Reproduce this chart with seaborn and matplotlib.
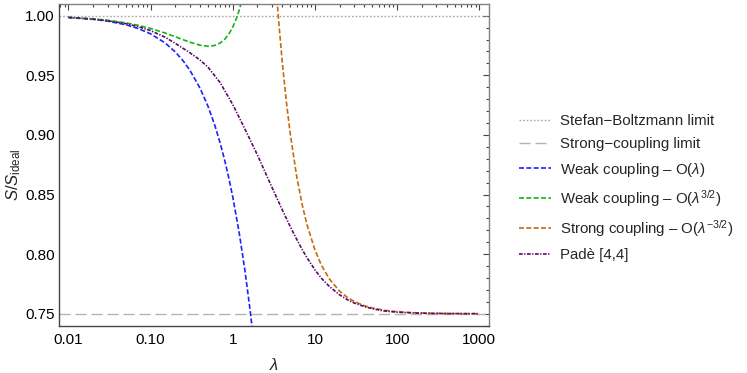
import numpy as np
import matplotlib
matplotlib.use("Agg")
import matplotlib.pyplot as plt
import seaborn as sns
from matplotlib.ticker import FixedLocator, LogLocator, NullFormatter, FixedFormatter, MultipleLocator
from matplotlib.lines import Line2D

# ---------------- data ----------------
sb_limit = 1.0
strong_limit = 0.75

weak1_lam = [0.01, 0.02, 0.03, 0.05, 0.07, 0.1, 0.15, 0.2, 0.25, 0.3, 0.4, 0.5,
             0.6, 0.7, 0.8, 0.9, 1.0, 1.2, 1.4, 1.6, 1.72]
weak1_val = [0.99848, 0.99696, 0.99544, 0.99240, 0.98936, 0.98480, 0.97720, 0.96960,
             0.96200, 0.95441, 0.93921, 0.92401, 0.90881, 0.89361, 0.87842, 0.86322,
             0.84802, 0.81762, 0.78723, 0.75683, 0.73859]

weak32_lam = [0.01, 0.02, 0.03, 0.05, 0.07, 0.1, 0.15, 0.2, 0.25, 0.3, 0.4, 0.5,
              0.6, 0.7, 0.8, 0.9, 1.0, 1.1, 1.2, 1.3]
weak32_val = [0.99862, 0.99736, 0.99618, 0.99399, 0.99200, 0.98930, 0.98547, 0.98234,
              0.97980, 0.97780, 0.97523, 0.97435, 0.97498, 0.97700, 0.98029, 0.98478,
              0.99039, 0.99707, 1.00477, 1.01345]

strong_lam = [3.45, 3.6, 4, 4.5, 5, 6, 7, 8, 10, 12, 15, 20, 25, 30, 40, 50, 70,
              100, 150, 200, 300, 500, 1000]
strong_val = [1.01379, 0.99748, 0.96130, 0.92708, 0.90119, 0.86502, 0.84127, 0.82471,
              0.80345, 0.79066, 0.77910, 0.76890, 0.76352, 0.76029, 0.75668, 0.75478,
              0.75289, 0.75169, 0.75092, 0.75060, 0.75033, 0.75015, 0.75005]

pade_lam = [0.01, 0.02, 0.03, 0.05, 0.07, 0.1, 0.15, 0.2, 0.3, 0.4, 0.5, 0.7, 1.0,
            1.5, 2.0, 3.0, 4.0, 5.0, 6.0, 7.0, 8.0, 10, 12, 15, 20, 25, 30, 40, 50,
            70, 100, 150, 200, 300, 500, 1000]
pade_val = [0.9985, 0.9971, 0.9958, 0.9933, 0.9909, 0.9875, 0.9820, 0.9768, 0.9690,
            0.9628, 0.9568, 0.9440, 0.9255, 0.9010, 0.8830, 0.8560, 0.8372, 0.8232,
            0.8124, 0.8038, 0.7970, 0.7868, 0.7797, 0.7728, 0.7658, 0.7616, 0.7590,
            0.7560, 0.7542, 0.7523, 0.7513, 0.7507, 0.7504, 0.7502, 0.7501, 0.7500]

x_ticks = [0.01, 0.1, 1, 10, 100, 1000]
x_ticklabels = ["0.01", "0.10", "1", "10", "100", "1000"]
y_ticks = [0.75, 0.80, 0.85, 0.90, 0.95, 1.00]
y_ticklabels = ["0.75", "0.80", "0.85", "0.90", "0.95", "1.00"]

labels = ["Stefan\u2212Boltzmann limit", "Strong\u2212coupling limit",
          "Weak coupling \u2013 O($\\lambda$)", "Weak coupling \u2013 O($\\lambda^{3/2}$)",
          "Strong coupling \u2013 O($\\lambda^{-3/2}$)", "Pad\u00e8 [4,4]"]

# ---------------- style ----------------
sns.set_theme(style="white")
plt.rcParams['font.family'] = ['Liberation Sans', 'DejaVu Sans']
plt.rcParams['mathtext.fontset'] = 'custom'
plt.rcParams['mathtext.rm'] = 'Liberation Sans'
plt.rcParams['mathtext.it'] = 'Liberation Sans:italic'
plt.rcParams['mathtext.bf'] = 'Liberation Sans:bold'

c_sb = "#a8a8a8"
c_sl = "#b4b4b4"
c_blue = "#1f1fff"
c_green = "#14b414"
c_orange = "#c46a10"
c_purple = "#5a0a64"

ls_sb = (0, (1.2, 1.4))
ls_sl = (0, (8, 3.5))
ls_dash = (0, (3.0, 1.4))
ls_purple = (0, (2.2, 0.9, 0.8, 0.9))
lw = 1.2

fig = plt.figure(figsize=(7.47, 3.73), dpi=100)
ax = fig.add_axes([59/747, 1-326/373, (489-59)/747, (326-4)/373])

xmin, xmax = 0.0077, 1310
ymin, ymax = 0.7397, 1.0098

ax.axhline(sb_limit, color=c_sb, lw=1.0, ls=ls_sb)
ax.axhline(strong_limit, color=c_sl, lw=1.0, ls=ls_sl)

sns.lineplot(x=weak1_lam, y=weak1_val, ax=ax, color=c_blue, lw=lw, ls=ls_dash)
sns.lineplot(x=weak32_lam, y=weak32_val, ax=ax, color=c_green, lw=lw, ls=ls_dash)
sns.lineplot(x=strong_lam, y=strong_val, ax=ax, color=c_orange, lw=lw, ls=ls_dash)
sns.lineplot(x=pade_lam, y=pade_val, ax=ax, color=c_purple, lw=lw, ls=ls_purple)

ax.set_xscale("log")
ax.set_xlim(xmin, xmax)
ax.set_ylim(ymin, ymax)

ax.xaxis.set_major_locator(FixedLocator(x_ticks))
ax.xaxis.set_major_formatter(FixedFormatter(x_ticklabels))
ax.xaxis.set_minor_locator(LogLocator(base=10, subs=np.arange(2, 10)))
ax.xaxis.set_minor_formatter(NullFormatter())
ax.yaxis.set_major_locator(FixedLocator(y_ticks))
ax.yaxis.set_major_formatter(FixedFormatter(y_ticklabels))
ax.yaxis.set_minor_locator(MultipleLocator(0.01))

ax.tick_params(which="both", direction="in", top=True, right=True,
               colors="#444444", labelcolor="black", labelsize=11, width=0.8)
ax.tick_params(which="major", length=4.5)
ax.tick_params(which="minor", length=2.5)
ax.tick_params(axis="y", which="major", pad=3)
ax.tick_params(axis="x", which="major", pad=5)
for name, side in ax.spines.items():
    side.set_color("#444444" if name in ("left", "bottom") else "#808080")
    side.set_linewidth(1.0)

ax.set_xlabel("$\\lambda$", fontsize=12)
ax.xaxis.set_label_coords(0.5, -0.095)
ax.set_ylabel("$S/S_{\\mathrm{ideal}}$", fontsize=12)
ax.yaxis.set_label_coords(-0.083, 0.47)

handles = [Line2D([], [], color=c_sb, lw=1.0, ls=ls_sb),
           Line2D([], [], color=c_sl, lw=1.0, ls=ls_sl),
           Line2D([], [], color=c_blue, lw=lw, ls=ls_dash),
           Line2D([], [], color=c_green, lw=lw, ls=ls_dash),
           Line2D([], [], color=c_orange, lw=lw, ls=ls_dash),
           Line2D([], [], color=c_purple, lw=lw, ls=ls_purple)]
fig.legend(handles, labels, loc="upper left", bbox_to_anchor=(519/747, 1-114/373),
           frameon=False, fontsize=10.8, handlelength=2.1, handletextpad=0.6,
           labelspacing=0.62, borderpad=0, borderaxespad=0)

fig.savefig("out.png", dpi=100)
